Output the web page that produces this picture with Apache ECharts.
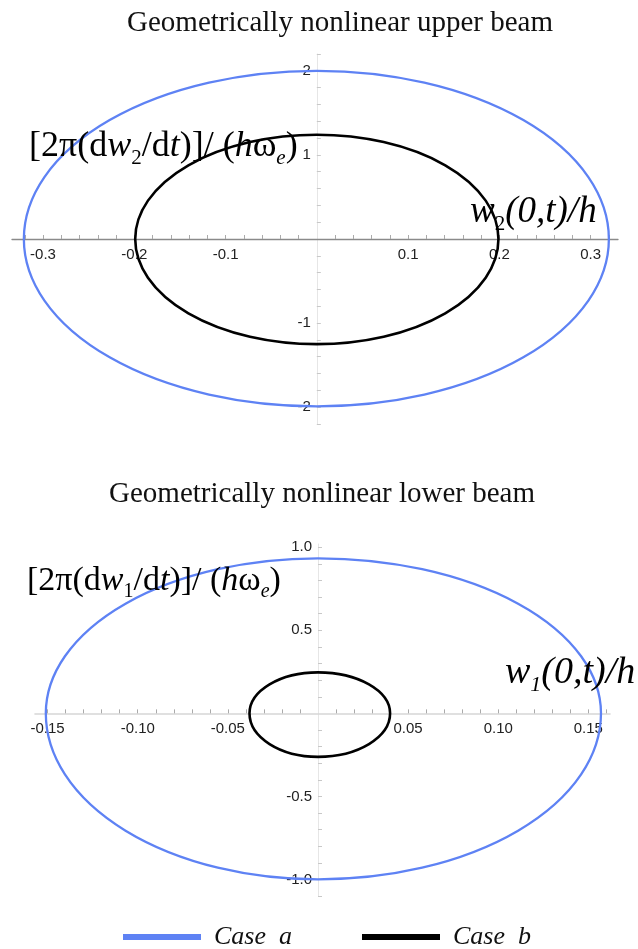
<!DOCTYPE html>
<html>
<head>
<meta charset="utf-8">
<script src="https://cdn.jsdelivr.net/npm/echarts@6/dist/echarts.min.js"></script>
<style>
  html, body { margin: 0; padding: 0; background: #fff; }
  #chart { width: 638px; height: 949px; }
</style>
</head>
<body>
<div id="chart"></div>
<script>
// orbit extents: [case a, case b]
// upper beam
const upperRight = [0.32, 0.199]
const upperTop = [2.0, 1.24]
const upperLeft = [-0.321, -0.199]
const upperBottom = [-1.99, -1.25]
// lower beam
const lowerRight = [0.157, 0.040]
const lowerTop = [0.934, 0.247]
const lowerLeft = [-0.151, -0.038]
const lowerBottom = [-1.0, -0.262]

// tick labels
const upperXTicks = [-0.3, -0.2, -0.1, 0.1, 0.2, 0.3]
const upperYTicks = [-2, -1, 1, 2]
const lowerXTicks = [-0.15, -0.10, -0.05, 0.05, 0.10, 0.15]
const lowerYTicks = [-1.0, -0.5, 0.5, 1.0]

const seriesNames = ['Case  a', 'Case  b']
const titles = ['Geometrically nonlinear upper beam', 'Geometrically nonlinear lower beam']

const BLUE = '#5e82f4'
const SERIF = '"Liberation Serif", "Times New Roman", serif'
const SANS = '"Liberation Sans", Arial, sans-serif'

// axis ranges + grid boxes
const W = 638
const grids = [
  { left: 12, right: 20, top: 54, height: 370, xMin: -0.334, xMax: 0.33, yMin: -2.2, yMax: 2.2 },
  { left: 35, right: 28, top: 544, height: 352, xMin: -0.157, xMax: 0.162, yMin: -1.1, yMax: 1.02 }
]
// where the zero lines fall inside each grid (used to move axes to the origin)
const zeroOffsets = grids.map((g) => {
  const w = W - g.left - g.right
  const x0 = ((0 - g.xMin) / (g.xMax - g.xMin)) * w
  const y0 = ((g.yMax - 0) / (g.yMax - g.yMin)) * g.height
  return { x: -(g.height - y0), y: -x0 }
})

// minor ticks (every step, skipping zero)
const minorTicks = (from, to, step) => {
  const out = []
  const n = Math.round((to - from) / step)
  for (let i = 0; i <= n; i++) {
    const v = +(from + i * step).toFixed(4)
    if (Math.abs(v) > 1e-9) out.push(v)
  }
  return out
}

const makeX = (gi, labels, ticks, digits, lineColor, lineWidth) => ({
  type: 'value',
  gridIndex: gi,
  min: grids[gi].xMin,
  max: grids[gi].xMax,
  position: 'bottom',
  offset: zeroOffsets[gi].x,
  axisLine: { onZero: false, lineStyle: { color: lineColor, width: lineWidth } },
  axisTick: { inside: true, length: 4, customValues: ticks, lineStyle: { color: '#aaa' } },
  axisLabel: {
    customValues: labels,
    formatter: (v) => v.toFixed(digits),
    color: '#222',
    fontFamily: SANS,
    fontSize: 15,
    margin: 8
  },
  splitLine: { show: false }
})

const makeY = (gi, labels, ticks, digits, lineColor) => ({
  type: 'value',
  gridIndex: gi,
  min: grids[gi].yMin,
  max: grids[gi].yMax,
  position: 'left',
  offset: zeroOffsets[gi].y,
  axisLine: { onZero: false, lineStyle: { color: lineColor, width: 1 } },
  axisTick: { inside: true, length: 4, customValues: ticks, lineStyle: { color: '#c8c8c8' } },
  axisLabel: {
    customValues: labels,
    formatter: (v) => v.toFixed(digits),
    color: '#222',
    fontFamily: SANS,
    fontSize: 15,
    margin: 6
  },
  splitLine: { show: false }
})

// closed orbit through the four extreme points (quarter arcs)
const orbitItem = (width) => (params, api) => {
  const c = api.coord([0, 0])
  const r = api.coord([api.value(0), 0])[0]
  const t = api.coord([0, api.value(1)])[1]
  const l = api.coord([api.value(2), 0])[0]
  const b = api.coord([0, api.value(3)])[1]
  const cx = c[0]
  const cy = c[1]
  const d =
    `M ${r} ${cy} A ${r - cx} ${cy - t} 0 0 0 ${cx} ${t} ` +
    `A ${cx - l} ${cy - t} 0 0 0 ${l} ${cy} ` +
    `A ${cx - l} ${b - cy} 0 0 0 ${cx} ${b} ` +
    `A ${r - cx} ${b - cy} 0 0 0 ${r} ${cy} Z`
  return {
    type: 'path',
    shape: { pathData: d },
    style: { fill: 'none', stroke: api.visual('color'), lineWidth: width }
  }
}

const mkSeries = (name, gi, idx, ext, color, width) => ({
  name,
  type: 'custom',
  xAxisIndex: gi,
  yAxisIndex: gi,
  coordinateSystem: 'cartesian2d',
  clip: false,
  silent: true,
  itemStyle: { color },
  encode: { x: [0, 2], y: [1, 3] },
  data: [[ext[0][idx], ext[1][idx], ext[2][idx], ext[3][idx]]],
  renderItem: orbitItem(width),
  z: 3
})

const richSet = (size) => {
  const n = { fontFamily: SERIF, fontSize: size, lineHeight: Math.round(size * 1.22), verticalAlign: 'middle', fill: '#000' }
  const sub = { fontFamily: SERIF, fontSize: Math.round(size * 0.58), lineHeight: Math.round(size * 0.6), verticalAlign: 'bottom', fill: '#000' }
  return {
    n,
    i: Object.assign({}, n, { fontStyle: 'italic' }),
    s: sub,
    si: Object.assign({}, sub, { fontStyle: 'italic' })
  }
}

const upperExt = [upperRight, upperTop, upperLeft, upperBottom]
const lowerExt = [lowerRight, lowerTop, lowerLeft, lowerBottom]

const chart = echarts.init(document.getElementById('chart'))

const option = {
  animation: false,
  grid: grids.map((g) => ({ left: g.left, right: g.right, top: g.top, height: g.height })),
  xAxis: [
    makeX(0, upperXTicks, minorTicks(-0.32, 0.32, 0.02), 1, '#8a8a8a', 1.3),
    makeX(1, lowerXTicks, minorTicks(-0.15, 0.16, 0.01), 2, '#d6d6d6', 1.6)
  ],
  yAxis: [
    makeY(0, upperYTicks, minorTicks(-2.2, 2.2, 0.2), 0, '#e6e6e6'),
    makeY(1, lowerYTicks, minorTicks(-1.1, 1.0, 0.1), 1, '#e6e6e6')
  ],
  legend: {
    data: seriesNames,
    left: 123,
    top: 924,
    padding: 0,
    icon: 'rect',
    itemWidth: 78,
    itemHeight: 6,
    itemGap: 70,
    textStyle: { fontFamily: SERIF, fontStyle: 'italic', fontSize: 26, color: '#111', padding: [0, 0, 0, 8] }
  },
  graphic: [
    { type: 'text', x: 340, y: 23, style: { text: titles[0], fontFamily: SERIF, fontSize: 29, fill: '#111', align: 'center', verticalAlign: 'middle' } },
    { type: 'text', x: 322, y: 494, style: { text: titles[1], fontFamily: SERIF, fontSize: 29, fill: '#111', align: 'center', verticalAlign: 'middle' } },
    { type: 'text', x: 29, y: 125, z: 10, style: { text: '{n|[2π(d}{i|w}{s|2}{n|/d}{i|t}{n|)]/ (}{i|h}{n|ω}{si|e}{n|)}', rich: richSet(36) } },
    { type: 'text', x: 470, y: 190, z: 10, style: { text: '{i|w}{s|2}{i|(0,t)/h}', rich: richSet(37) } },
    { type: 'text', x: 27, y: 561, z: 10, style: { text: '{n|[2π(d}{i|w}{s|1}{n|/d}{i|t}{n|)]/ (}{i|h}{n|ω}{si|e}{n|)}', rich: richSet(34) } },
    { type: 'text', x: 505, y: 650, z: 10, style: { text: '{i|w}{si|1}{i|(0,t)/h}', rich: richSet(38) } }
  ],
  series: [
    mkSeries(seriesNames[0], 0, 0, upperExt, BLUE, 2.3),
    mkSeries(seriesNames[1], 0, 1, upperExt, '#000', 2.6),
    mkSeries(seriesNames[0], 1, 0, lowerExt, BLUE, 2.3),
    mkSeries(seriesNames[1], 1, 1, lowerExt, '#000', 2.6)
  ]
}

chart.setOption(option)
</script>
</body>
</html>
